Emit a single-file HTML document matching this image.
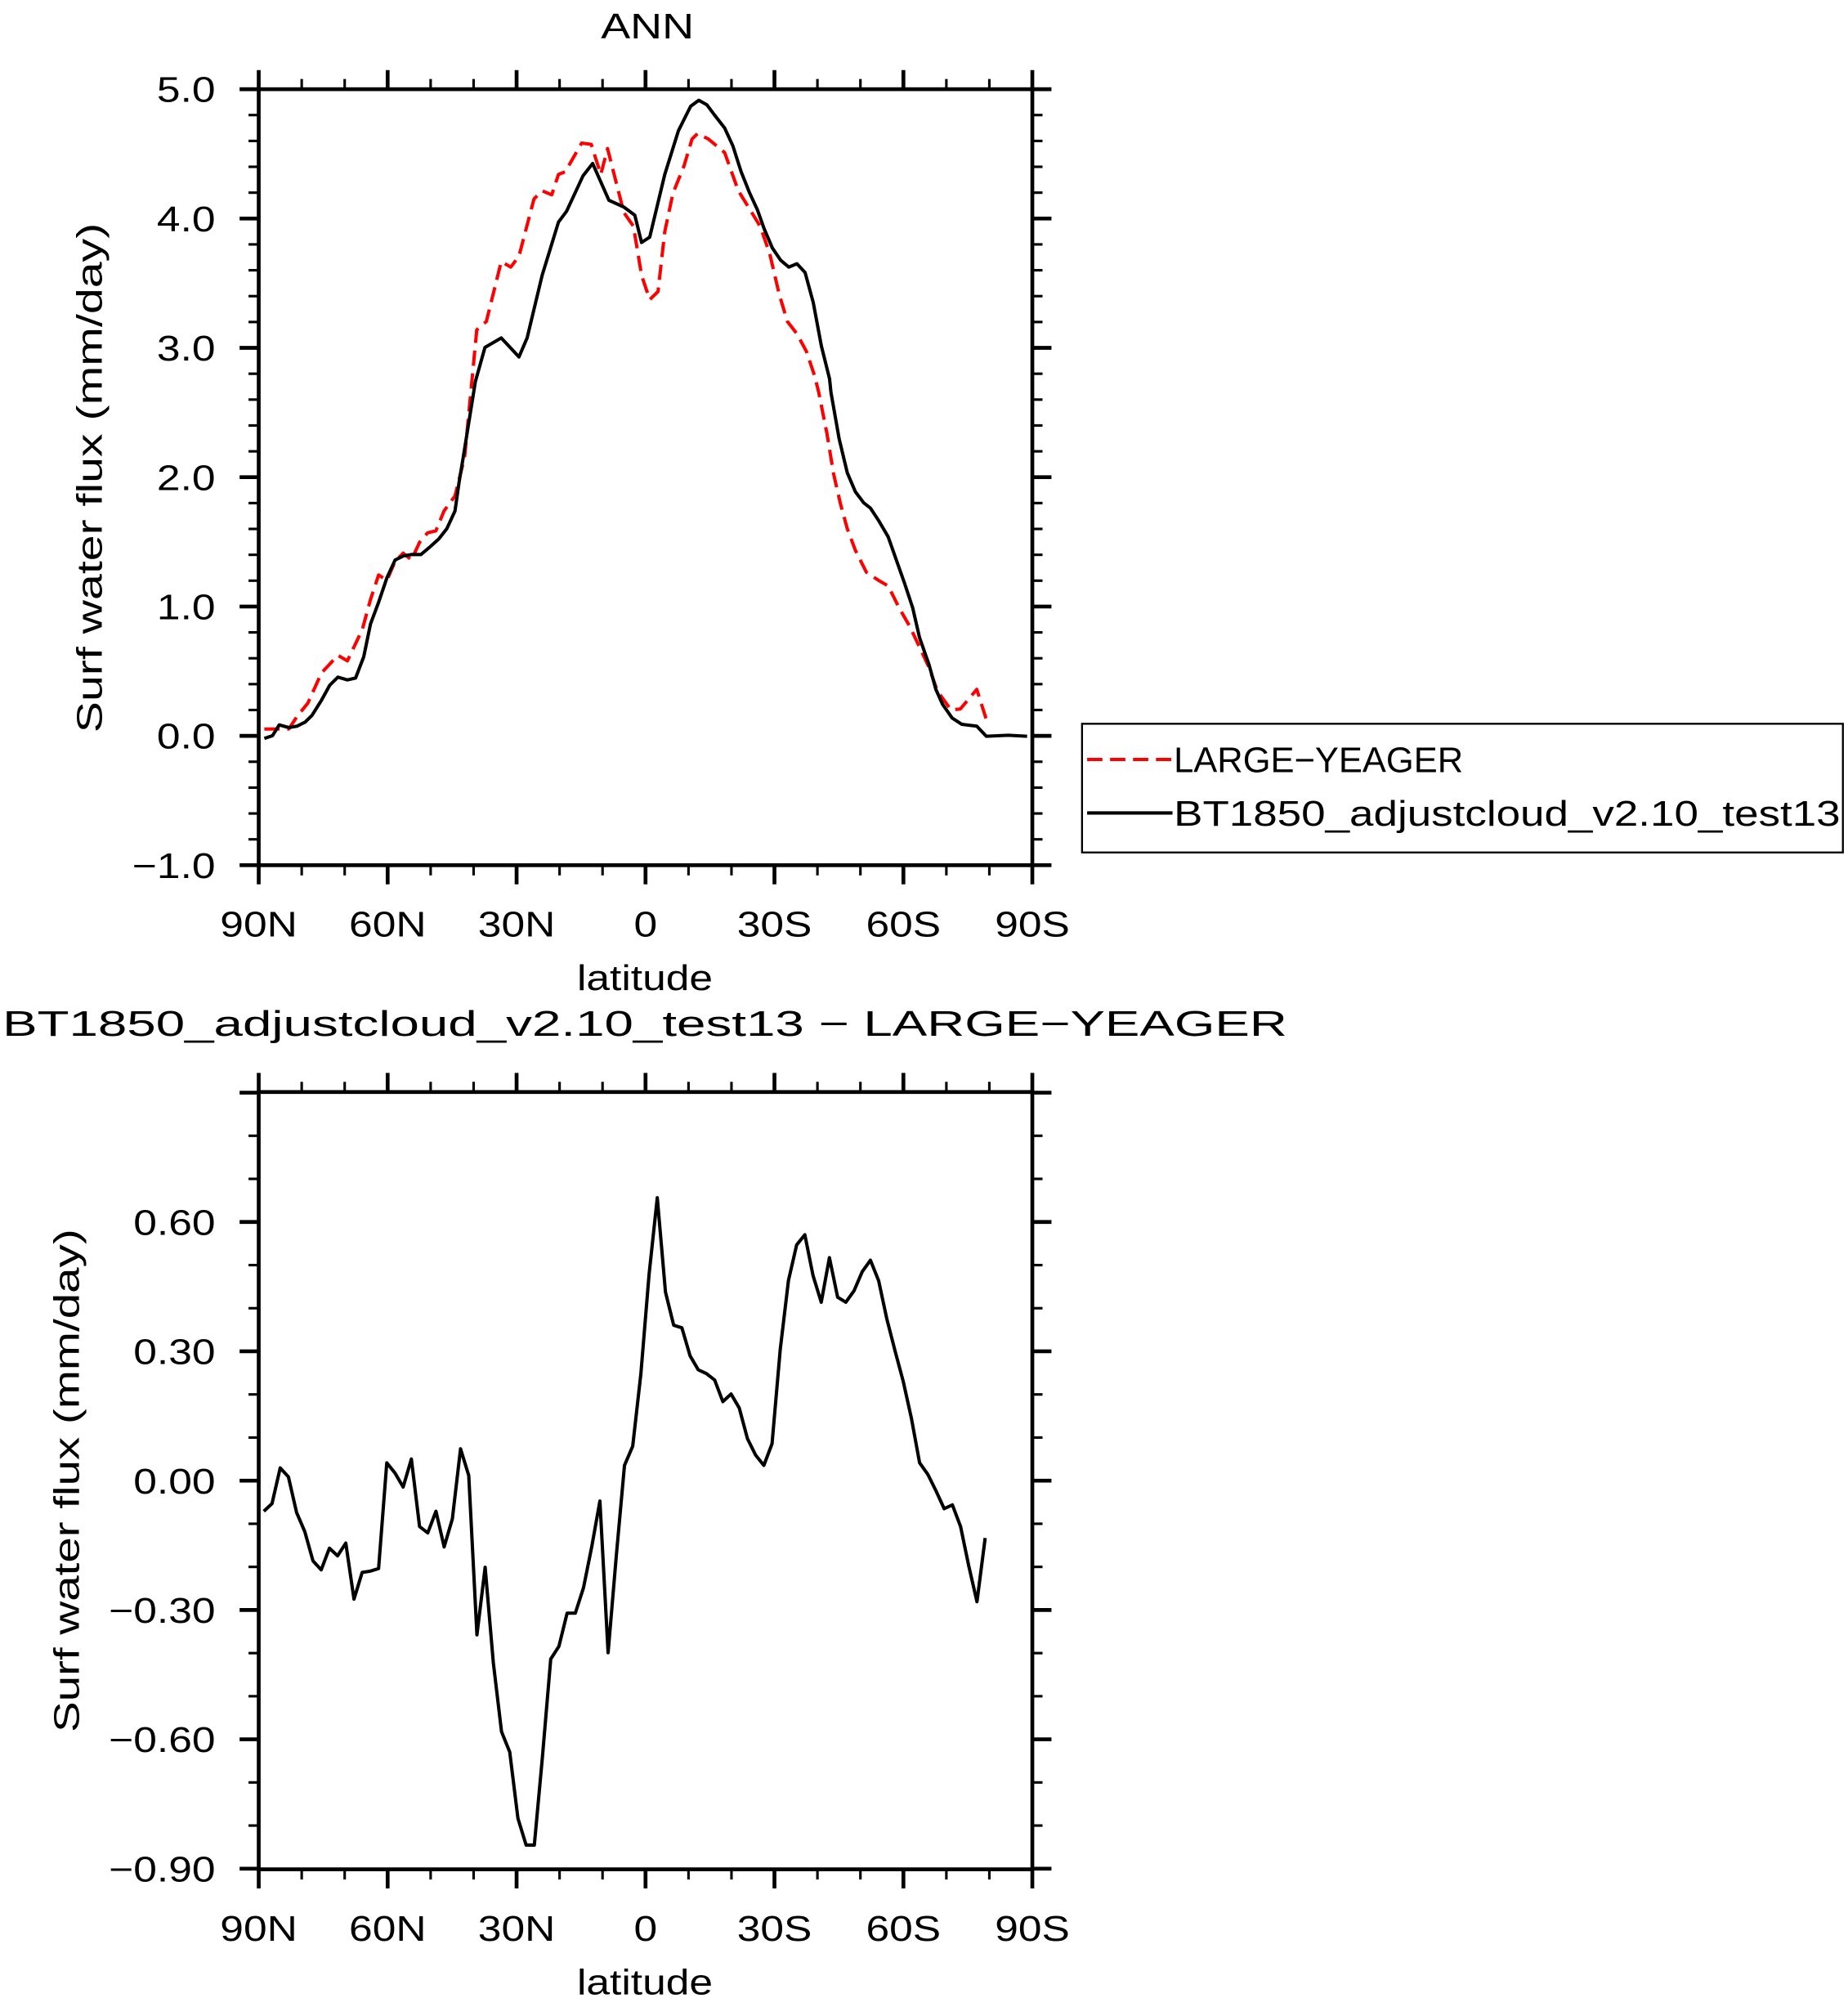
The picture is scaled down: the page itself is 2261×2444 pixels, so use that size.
<!DOCTYPE html>
<html><head><meta charset="utf-8"><style>
html,body{margin:0;padding:0;background:#fff}
svg{display:block}
text{font-family:"Liberation Sans",sans-serif;fill:#000}
</style></head><body>
<svg id="s" xmlns="http://www.w3.org/2000/svg" width="2261" height="2444" viewBox="0 0 1450 1568" preserveAspectRatio="none"></svg>
<script>
const s=document.getElementById('s');let h='';
const X0=203,X1=810;
function line(x1,y1,x2,y2,w){h+=`<line x1="${x1}" y1="${y1}" x2="${x2}" y2="${y2}" stroke="#000" stroke-width="${w||2}"/>`;}
function txt(x,y,t,a,len){
  if(len){h+=`<text x="${x}" y="${y}" font-size="28" text-anchor="${a||'middle'}" textLength="${len}" lengthAdjust="spacingAndGlyphs">${t}</text>`;}
  else h+=`<text font-size="28" text-anchor="${a||'middle'}" transform="translate(${x},${y}) scale(1.18,1)">${t}</text>`;
}
function frame(Y0,Y1,yMaj,yMin,labels){
  h+=`<rect x="${X0}" y="${Y0}" width="${X1-X0}" height="${Y1-Y0}" fill="none" stroke="#000" stroke-width="3"/>`;
  for(let i=0;i<=18;i++){const x=X0+i*(X1-X0)/18;const L=i%3==0?15:8;line(x,Y0,x,Y0-L,i%3==0?3:2);line(x,Y1,x,Y1+L,i%3==0?3:2);}
  yMin.forEach(y=>{line(X0,y,X0-8,y);line(X1,y,X1+8,y);});
  yMaj.forEach((y,i)=>{line(X0,y,X0-15,y,3);line(X1,y,X1+15,y,3);if(labels[i])txt(X0-34,y+10,labels[i],'end');});
  const xl=['90N','60N','30N','0','30S','60S','90S'];
  xl.forEach((t,i)=>txt(X0+i*(X1-X0)/6,Y1+56,t));
  txt(506,Y1+98,'latitude');
}
// top
let maj=[],mn=[];for(let k=-5;k<=25;k++){const y=577.5-k*0.2*101.5;if(k%5==0)maj.unshift(y);else mn.push(y);}
frame(70,679,maj,mn,['5.0','4.0','3.0','2.0','1.0','0.0','&#8722;1.0']);
txt(508,30,'ANN','middle',73);
h+=`<text font-size="28" text-anchor="middle" transform="translate(80,375) rotate(-90)" textLength="400" lengthAdjust="spacingAndGlyphs">Surf water flux (mm/day)</text>`;
// bottom
maj=[];mn=[];for(let k=-9;k<=9;k++){const y=1162-k*101.5/3;if(k%3==0)maj.push(y);else mn.push(y);}
maj.sort((a,b)=>a-b);
frame(857,1467,maj,mn,['','0.60','0.30','0.00','&#8722;0.30','&#8722;0.60','&#8722;0.90']);
txt(506,813,'BT1850_adjustcloud_v2.10_test13 &#8722; LARGE&#8722;YEAGER','middle',1008);
h+=`<text font-size="28" text-anchor="middle" transform="translate(62,1162) rotate(-90)" textLength="395" lengthAdjust="spacingAndGlyphs">Surf water flux (mm/day)</text>`;
// data (zoom coords -> display)
const cv=(ox,oy,a)=>a.map(p=>[((ox+p[0]/3)/1.5593).toFixed(1),((oy+p[1]/3)/1.5587).toFixed(1)]);
const blk=[].concat(
 cv(310,560,[[40,1030],[70,1020],[95,980],[130,990],[160,985],[190,970],[215,945],[250,890],[280,835],[310,805],[345,815],[375,808],[405,730],[430,610],[460,530],[490,440],[520,375],[550,360],[580,355],[615,355],[650,325],[680,298],[710,260],[740,195],[755,90],[770,0]]),
 cv(530,150,[[155,950],[190,825],[250,790],[315,860],[345,790],[400,560],[460,365],[490,325],[550,195],[585,150],[645,285],[700,310],[740,340],[765,440],[795,420],[850,190],[900,30]]),
 cv(820,100,[[40,160],[75,90],[105,68],[135,85],[165,125],[200,170],[230,235],[260,330],[290,405],[320,470],[345,540],[375,610],[405,655],[435,680],[465,668],[495,700],[525,810],[555,970],[585,1090]]),
 cv(940,480,[[230,0],[260,170],[290,295],[320,365],[350,405],[375,425],[405,470],[440,530],[470,615],[500,700],[530,790],[555,900],[590,1000],[615,1090],[640,1145],[675,1195],[710,1218],[765,1225],[800,1262],[880,1258],[950,1262]]));
const red=[].concat(
 cv(310,560,[[40,995],[130,995],[160,950],[200,900],[250,790],[310,725],[345,745],[400,630],[430,520],[460,430],[490,450],[520,380],[550,350],[580,375],[610,310],[640,275],[670,268],[700,195],[740,140],[765,40],[775,0]]),
 cv(530,150,[[160,760],[195,730],[250,510],[285,530],[315,490],[370,280],[400,250],[435,265],[460,190],[485,180],[545,75],[580,80],[615,190],[640,95],[700,330],[735,380],[765,560],[795,650],[825,620],[850,400],[880,260],[900,210]]),
 cv(820,100,[[50,310],[80,210],[100,190],[140,210],[170,235],[200,260],[250,400],[290,465],[330,530],[365,630],[400,780],[430,880],[465,925],[500,990],[530,1080]]),
 cv(940,480,[[185,0],[215,150],[240,300],[265,410],[290,500],[320,580],[360,660],[405,690],[440,710],[480,790],[520,860],[555,935],[590,1010],[620,1095],[670,1165],[705,1162],[765,1090],[800,1200]]));
let dif=[[207,1186],[213,1180],[219,1152],[225,1159],[231,1187],[237,1202],[243,1225],[249,1232],[255,1215],[261,1221],[267,1211],[273,1255],[279,1234],[285,1233],[291,1231],[297,1148],[303,1156],[309,1167],[315,1145],[321,1198],[327,1203],[333,1186],[339,1214],[345,1192],[351,1137],[357,1158],[363,1283],[369,1230],[375,1305],[381,1359],[387,1375],[393,1427],[399,1448],[405,1448],[411,1378],[417,1302],[423,1292],[429,1266],[435,1266],[441,1246],[447,1214],[453,1178],[459,1297],[465,1221],[471,1150],[477,1135],[483,1078],[489,1000],[495,940],[501,1014],[507,1040],[513,1042],[519,1064],[525,1075],[531,1078],[537,1083],[543,1100],[549,1094],[555,1105],[561,1129],[567,1142],[573,1150],[579,1133],[585,1059],[591,1005],[597,977],[603,969],[609,1001],[615,1022],[621,987],[627,1018],[633,1022],[639,1013],[645,998],[651,989],[657,1005],[663,1035],[669,1060],[675,1084],[681,1113],[687,1148],[693,1157],[699,1170],[705,1184],[711,1181],[717,1198],[723,1229],[729,1257],[735,1207]];
dif=dif.map(p=>[207+(p[0]-207)*566/528,p[1]]);
const pl=(a,c,d)=>h+=`<polyline points="${a.map(p=>p.join(',')).join(' ')}" fill="none" stroke="${c}" stroke-width="2.6" stroke-linejoin="round" ${d||''}/>`;
pl(red,'#f00','stroke-dasharray="12,6"');pl(blk,'#000');pl(dif,'#000');
// legend
h+=`<rect x="849" y="568" width="597" height="101" fill="#fff" stroke="#000" stroke-width="1.5"/>`;
h+=`<line x1="853" y1="596" x2="920" y2="596" stroke="#f00" stroke-width="2.6" stroke-dasharray="12,6"/>`;
line(853,638,920,638,2.6);
txt(921,606,'LARGE&#8722;YEAGER','start',227);txt(921,648,'BT1850_adjustcloud_v2.10_test13','start',523);
s.innerHTML=h;
</script>
</body></html>
